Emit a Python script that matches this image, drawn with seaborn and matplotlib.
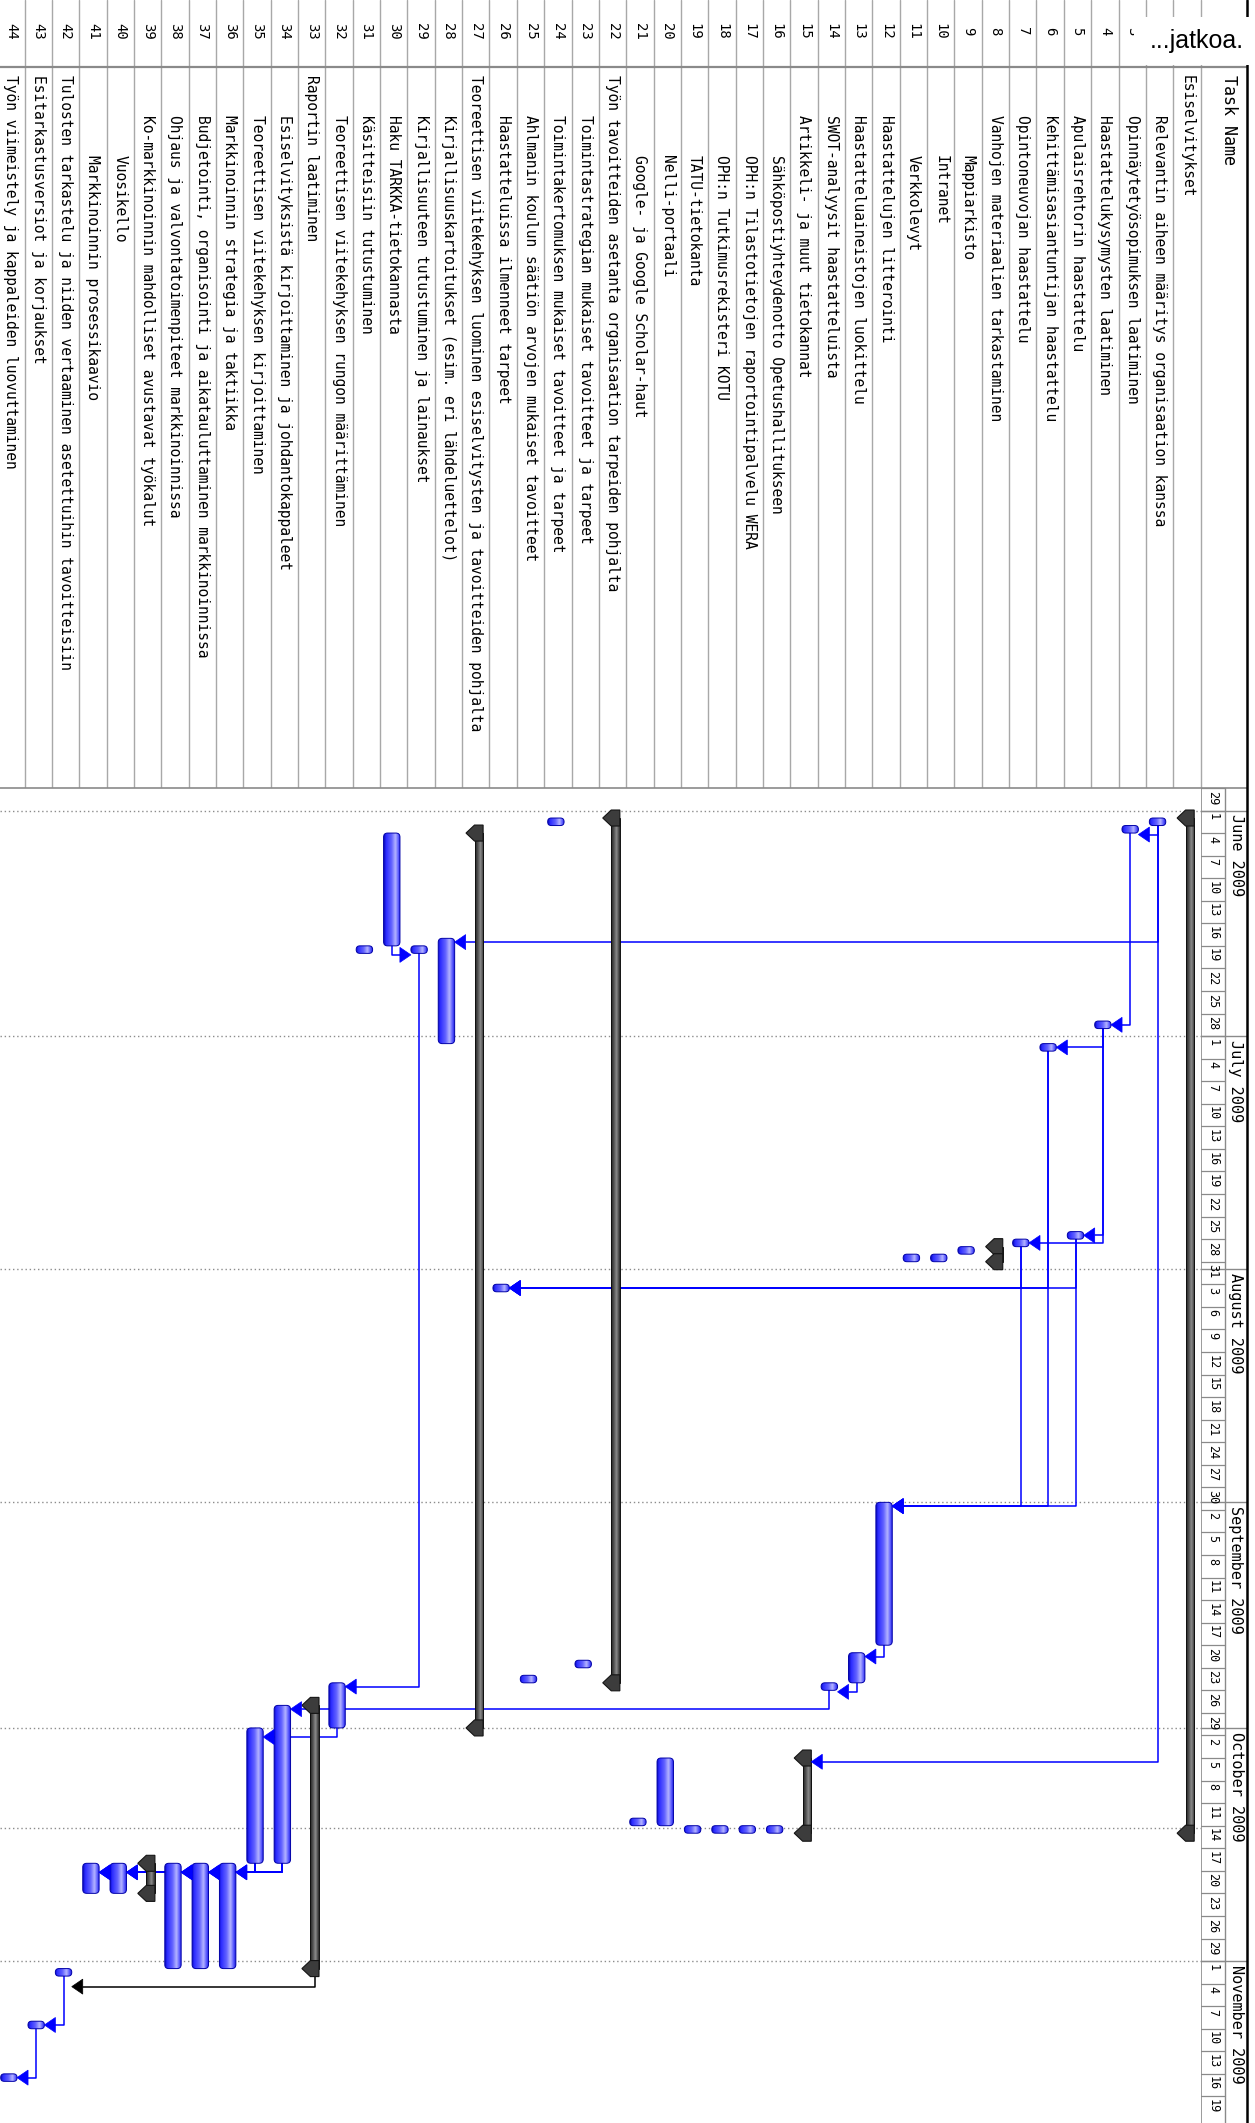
import numpy as np
import pandas as pd
import matplotlib
matplotlib.use("Agg")
import matplotlib.pyplot as plt
import seaborn as sns
from matplotlib.patches import FancyBboxPatch, Polygon, Rectangle
from matplotlib.colors import LinearSegmentedColormap

# ---------------------------------------------------------------- schedule
task_ids = list(range(1, 45))

task_names = [
    "Esiselvitykset",
    "Relevantin aiheen määritys organisaation kanssa",
    "Opinnäytetyösopimuksen laatiminen",
    "Haastattelukysymysten laatiminen",
    "Apulaisrehtorin haastattelu",
    "Kehittämisasiantuntijan haastattelu",
    "Opintoneuvojan haastattelu",
    "Vanhojen materiaalien tarkastaminen",
    "Mappiarkisto",
    "Intranet",
    "Verkkolevyt",
    "Haastattelujen litterointi",
    "Haastatteluaineistojen luokittelu",
    "SWOT-analyysit haastatteluista",
    "Artikkeli- ja muut tietokannat",
    "Sähköpostiyhteydenotto Opetushallitukseen",
    "OPH:n Tilastotietojen raportointipalvelu WERA",
    "OPH:n Tutkimusrekisteri KOTU",
    "TATU-tietokanta",
    "Nelli-portaali",
    "Google- ja Google Scholar-haut",
    "Työn tavoitteiden asetanta organisaation tarpeiden pohjalta",
    "Toimintastrategian mukaiset tavoitteet ja tarpeet",
    "Toimintakertomuksen mukaiset tavoitteet ja tarpeet",
    "Ahlmanin koulun säätiön arvojen mukaiset tavoitteet",
    "Haastatteluissa ilmenneet tarpeet",
    "Teoreettisen viitekehyksen luominen esiselvitysten ja tavoitteiden pohjalta",
    "Kirjallisuuskartoitukset (esim. eri lähdeluettelot)",
    "Kirjallisuuteen tutustuminen ja lainaukset",
    "Haku TARKKA-tietokannasta",
    "Käsitteisiin tutustuminen",
    "Teoreettisen viitekehyksen rungon määrittäminen",
    "Raportin laatiminen",
    "Esiselvityksistä kirjoittaminen ja johdantokappaleet",
    "Teoreettisen viitekehyksen kirjoittaminen",
    "Markkinoinnin strategia ja taktiikka",
    "Budjetointi, organisointi ja aikatauluttaminen markkinoinnissa",
    "Ohjaus ja valvontatoimenpiteet markkinoinnissa",
    "Ko-markkinoinnin mahdolliset avustavat työkalut",
    "Vuosikello",
    "Markkinoinnin prosessikaavio",
    "Tulosten tarkastelu ja niiden vertaaminen asetettuihin tavoitteisiin",
    "Esitarkastusversiot ja korjaukset",
    "Työn viimeistely ja kappaleiden luovuttaminen",
]

outline_level = [0, 1, 1, 1, 1, 1, 1, 1, 2, 2, 2, 1, 1, 1, 1, 2, 2, 2, 2, 2, 2,
                 0, 1, 1, 1, 1, 0, 1, 1, 1, 1, 1, 0, 1, 1, 1, 1, 1, 1, 2, 2,
                 0, 0, 0]

summary_tasks = [1, 8, 15, 22, 27, 33, 39]

# row numbers 1 and 2 sit under the "...jatkoa." note and are not printed
printed_numbers = list(range(3, 45))

task_start = [
    "2009-06-02", "2009-06-02", "2009-06-03", "2009-06-29", "2009-07-27",
    "2009-07-02", "2009-07-28", "2009-07-29", "2009-07-29", "2009-07-30",
    "2009-07-30", "2009-09-01", "2009-09-21", "2009-09-25", "2009-10-05",
    "2009-10-14", "2009-10-14", "2009-10-14", "2009-10-14", "2009-10-05",
    "2009-10-13", "2009-06-02", "2009-09-22", "2009-06-02", "2009-09-24",
    "2009-08-03", "2009-06-04", "2009-06-18", "2009-06-19", "2009-06-04",
    "2009-06-19", "2009-09-25", "2009-09-28", "2009-09-28", "2009-10-01",
    "2009-10-19", "2009-10-19", "2009-10-19", "2009-10-19", "2009-10-19",
    "2009-10-19", "2009-11-02", "2009-11-09", "2009-11-16",
]

task_finish = [
    "2009-10-14", "2009-06-02", "2009-06-03", "2009-06-29", "2009-07-27",
    "2009-07-02", "2009-07-28", "2009-07-30", "2009-07-29", "2009-07-30",
    "2009-07-30", "2009-09-19", "2009-09-24", "2009-09-25", "2009-10-14",
    "2009-10-14", "2009-10-14", "2009-10-14", "2009-10-14", "2009-10-13",
    "2009-10-13", "2009-09-24", "2009-09-22", "2009-06-02", "2009-09-24",
    "2009-08-03", "2009-09-30", "2009-07-01", "2009-06-19", "2009-06-18",
    "2009-06-19", "2009-09-30", "2009-11-01", "2009-10-18", "2009-10-18",
    "2009-11-01", "2009-11-01", "2009-11-01", "2009-10-22", "2009-10-22",
    "2009-10-22", "2009-11-02", "2009-11-09", "2009-11-16",
]

# finish-to-start links: (predecessor, successor)
task_links = [
    (2, 3), (2, 28), (2, 15), (3, 4), (4, 6), (4, 5), (4, 7),
    (5, 12), (6, 12), (7, 12), (5, 26), (6, 26), (7, 26),
    (12, 13), (13, 14), (14, 34), (30, 29), (29, 32), (32, 35),
    (34, 36), (34, 37), (34, 38), (34, 40), (34, 41),
    (35, 36), (35, 37), (35, 38), (35, 40), (35, 41),
    (33, 42), (42, 43), (43, 44),
]

timescale_start = "2009-05-29"
timescale_end = "2009-11-19"
status_date = "2009-10-14 08:00"

# ---------------------------------------------------------------- layout
W, H = 1255, 2123
ROW_PX = 27.35
ROW1_PX = 1186.9
DAY_PX = 7.52
JUNE1_PX = 810.5
GANTT_TOP = JUNE1_PX - 3 * DAY_PX
GANTT_RIGHT = ROW1_PX + ROW_PX / 2
BORDER_X = 1247
TIER_X = 1225
LEVEL_Y = {0: 75, 1: 115, 2: 155}

BASE = pd.Timestamp("2009-06-01")


def day_of(ts):
    return (pd.Timestamp(ts) - BASE) / pd.Timedelta(days=1)


def row_px(i):
    return ROW1_PX - (i - 1) * ROW_PX


def xd(i, dpx=0.0):
    """Gantt x data value for row i, shifted dpx pixels to the right."""
    return i - dpx / ROW_PX


sns.set_style("white")
plt.rcParams["font.family"] = ["DejaVu Sans Mono", "DejaVu Sans"]

fig = plt.figure(figsize=(W / 100, H / 100), dpi=100)
fig.patch.set_facecolor("white")

gh = (H - GANTT_TOP) / H
ax = fig.add_axes([0, 0, GANTT_RIGHT / W, gh])
ax_s = fig.add_axes([GANTT_RIGHT / W, 0, (BORDER_X - GANTT_RIGHT) / W, gh], sharey=ax)
ax_t = fig.add_axes([0, 1 - GANTT_TOP / H, 1, GANTT_TOP / H])
ax_o = fig.add_axes([0, 0, 1, 1])

for a in (ax, ax_s, ax_t, ax_o):
    a.set_axis_off()
ax_o.set_facecolor("none")
ax_o.patch.set_alpha(0)

day_bottom = (H - JUNE1_PX) / DAY_PX
x_left = 1 + ROW1_PX / ROW_PX

# ---------------------------------------------------------------- table
ax_t.set_xlim(0, W)
ax_t.set_ylim(GANTT_TOP, 0)
grid_c = "#a8a8a8"
for k in range(44):
    bx = 24.5 + k * ROW_PX
    ax_t.plot([bx, bx], [0, GANTT_TOP], color=grid_c, lw=1.0)
ax_t.plot([0, BORDER_X], [67, 67], color="#8a8a8a", lw=1.6)

for i in printed_numbers:
    ax_t.text(row_px(i), 31, str(i), rotation=-90, ha="center", va="center",
              fontsize=10, color="black")
for i, name, lvl in zip(task_ids, task_names, outline_level):
    ax_t.text(row_px(i), LEVEL_Y[lvl], name, rotation=-90, ha="center",
              va="top", fontsize=10.5, color="black")
ax_t.text(1229, LEVEL_Y[0], "Task Name", rotation=-90, ha="center", va="top",
          fontsize=12, color="black")

# ---------------------------------------------------------------- gantt
blue_cmap = LinearSegmentedColormap.from_list(
    "taskbar", [(0, "#0c0cc0"), (0.12, "#2b2bff"), (0.45, "#6464ff"),
                (0.68, "#b4b4ff"), (0.86, "#5a5aff"), (1, "#1818e0")])
gray_cmap = LinearSegmentedColormap.from_list(
    "summarybar", [(0, "#202020"), (0.3, "#4e4e4e"), (0.62, "#8c8c8c"),
                   (1, "#2a2a2a")])

BAR_W, BAR_OFF = 16.4, -2.0
SUM_W, SUM_OFF = 8.6, 3.0
CAP_HH = 8.0 / DAY_PX
grad = np.linspace(0, 1, 64)[None, :]


def shaded_bar(i, y0, y1, width_px, off_px, cmap, rounded, edge):
    xl = xd(i, off_px - width_px / 2)
    xr = xd(i, off_px + width_px / 2)
    if rounded:
        length_px = (y1 - y0) * DAY_PX
        r_px = min(4.0, 0.48 * length_px, 0.48 * width_px)
        patch = FancyBboxPatch((xr, y0), xl - xr, y1 - y0,
                               boxstyle=f"round,pad=0,rounding_size={r_px / ROW_PX}",
                               mutation_aspect=ROW_PX / DAY_PX)
    else:
        patch = Rectangle((xr, y0), xl - xr, y1 - y0)
    patch.set_facecolor("none")
    patch.set_edgecolor(edge)
    patch.set_linewidth(0.7)
    patch.set_zorder(5)
    ax.add_patch(patch)
    im = ax.imshow(grad, cmap=cmap, extent=(xl, xr, y1, y0), aspect="auto",
                   interpolation="bilinear", zorder=4)
    im.set_clip_path(patch)


def summary_cap(i, yc):
    r = SUM_OFF + SUM_W / 2
    l = SUM_OFF - SUM_W / 2
    tip = l - 8.5
    pts = [(xd(i, r), yc - CAP_HH), (xd(i, r), yc + CAP_HH),
           (xd(i, l), yc + CAP_HH), (xd(i, tip), yc), (xd(i, l), yc - CAP_HH)]
    ax.add_patch(Polygon(pts, closed=True, facecolor="#3c3c3c",
                         edgecolor="#141414", lw=0.8, zorder=6))


starts = {i: day_of(s) for i, s in zip(task_ids, task_start)}
ends = {i: day_of(f) + 1 for i, f in zip(task_ids, task_finish)}

# month gridlines and status date
month_starts = pd.date_range("2009-06-01", "2009-11-01", freq="MS")
for m in month_starts:
    ax.axhline(day_of(m), color="#8c8c8c", lw=1.0, ls=(0, (1, 2)), zorder=1)
ax.axhline(day_of(status_date), color="#8c8c8c", lw=1.0, ls=(0, (1, 2)), zorder=1)

# task bars
for i in task_ids:
    if i in summary_tasks:
        shaded_bar(i, starts[i], ends[i], SUM_W, SUM_OFF, gray_cmap, False, "#101010")
        summary_cap(i, starts[i])
        summary_cap(i, ends[i])
    else:
        shaded_bar(i, starts[i], ends[i], BAR_W, BAR_OFF, blue_cmap, True, "#0000a8")

# dependency links
ARROW_L = 11.0
ARROW_HH = 7.5 / DAY_PX
for p, s in task_links:
    p_sum = p in summary_tasks
    s_sum = s in summary_tasks
    color = "black" if p_sum else "#0000ff"
    p_off = SUM_OFF if p_sum else BAR_OFF
    s_off = SUM_OFF if s_sum else BAR_OFF
    s_half = (SUM_W if s_sum else BAR_W) / 2
    y_from = ends[p] + (CAP_HH if p_sum else 0)
    y_h = max(starts[s] + 0.5, ends[p] + (2.4 if p_sum else 1.2))
    x_p = xd(p, p_off)
    if s > p:
        tip_px, base_px = s_off + s_half, s_off + s_half + ARROW_L
    else:
        tip_px, base_px = s_off - s_half, s_off - s_half - ARROW_L
    x_tip, x_base = xd(s, tip_px), xd(s, base_px)
    ax.plot([x_p, x_p, x_base], [y_from, y_h, y_h], color=color, lw=1.1,
            solid_joinstyle="round", zorder=3)
    ax.add_patch(Polygon([(x_tip, y_h), (x_base, y_h - ARROW_HH),
                          (x_base, y_h + ARROW_HH)], closed=True,
                         facecolor=color, edgecolor=color, lw=0.5, zorder=7))

ax.set_xlim(x_left, 0.5)
ax.set_ylim(day_bottom, -3.0)

# ---------------------------------------------------------------- timescale
ax_s.set_xlim(0, 1)
tier = (TIER_X - GANTT_RIGHT) / (BORDER_X - GANTT_RIGHT)
line_c = "#8a8a8a"
ax_s.axvline(0, color=line_c, lw=1.2)
ax_s.axvline(tier, color=line_c, lw=1.0)
for d in pd.date_range(timescale_start, timescale_end, freq="3D"):
    y = day_of(d)
    ax_s.plot([0, tier], [y, y], color=line_c, lw=0.9)
    ax_s.text(tier / 2, y + 0.35, str(d.day), rotation=-90, ha="center",
              va="top", fontsize=8.5, color="black")
for m in month_starts:
    y = day_of(m)
    ax_s.plot([0, 1], [y, y], color=line_c, lw=1.0)
    ax_s.text((tier + 1) / 2, y + 0.5, m.strftime("%B %Y"), rotation=-90,
              ha="center", va="top", fontsize=11, color="black")
ax_s.set_ylim(day_bottom, -3.0)

# ---------------------------------------------------------------- frame
ax_o.set_xlim(0, W)
ax_o.set_ylim(H, 0)
ax_o.plot([0, BORDER_X], [GANTT_TOP, GANTT_TOP], color="#8a8a8a", lw=1.2)
ax_o.plot([BORDER_X, BORDER_X], [0, H], color="black", lw=1.8)
ax_o.add_patch(Rectangle((1134, 17), W - 1134, 48, facecolor="white",
                         edgecolor="none", zorder=8))
ax_o.text(1150, 41, "...jatkoa.", fontsize=18, family=["Liberation Sans", "DejaVu Sans"],
          ha="left", va="center", color="black", zorder=9)

fig.savefig("out.png", dpi=100)
